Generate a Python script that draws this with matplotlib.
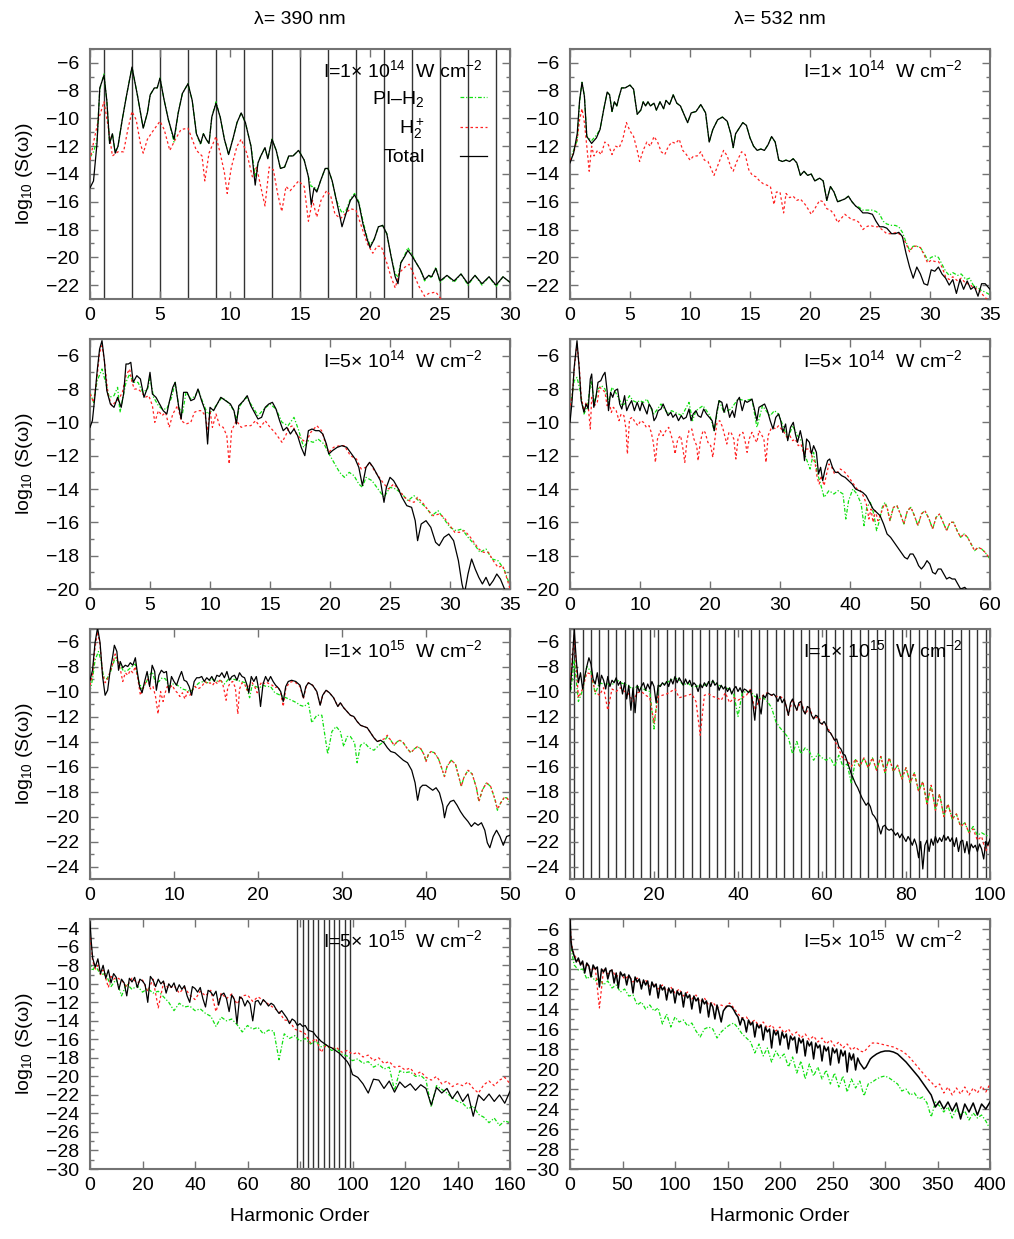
import numpy as np
import matplotlib
matplotlib.use("Agg")
import matplotlib.pyplot as plt
from matplotlib.ticker import MultipleLocator

plt.rcParams['font.family'] = ['Liberation Sans', 'DejaVu Sans']
plt.rcParams['mathtext.fontset'] = 'custom'
plt.rcParams['mathtext.rm'] = 'Liberation Sans'
plt.rcParams['mathtext.it'] = 'Liberation Sans:italic'
plt.rcParams['mathtext.bf'] = 'Liberation Sans:bold'
plt.rcParams['mathtext.sf'] = 'Liberation Sans'
plt.rcParams['font.size'] = 14

# ---------------- data ----------------
series_labels = ["PI\u2013H$_2$", "H$_2^+$", "Total"]
wavelength_titles = ["\u03bb= 390 nm", "\u03bb= 532 nm"]
intensity_labels = ["I=1$\\times$ 10$^{14}$  W cm$^{-2}$", "I=1$\\times$ 10$^{14}$  W cm$^{-2}$",
                    "I=5$\\times$ 10$^{14}$  W cm$^{-2}$", "I=5$\\times$ 10$^{14}$  W cm$^{-2}$",
                    "I=1$\\times$ 10$^{15}$  W cm$^{-2}$", "I=1$\\times$ 10$^{15}$  W cm$^{-2}$",
                    "I=5$\\times$ 10$^{15}$  W cm$^{-2}$", "I=5$\\times$ 10$^{15}$  W cm$^{-2}$"]

# odd-harmonic marker lines
p1_harmonics = [1, 3, 5, 7, 9, 11, 13, 15, 17, 19, 21, 23, 25, 27, 29]
p6_harmonics = [1, 3, 5, 7, 9, 11, 13, 15, 17, 19, 21, 23, 25, 27, 29, 31, 33, 35, 37, 39,
                41, 43, 45, 47, 49, 51, 53, 55, 57, 59, 61, 63, 65, 67, 69, 71, 73, 75, 77, 79,
                81, 83, 85, 87, 89, 91, 93, 95, 97, 99]
p7_harmonics = [79, 81, 83, 85, 87, 89, 91, 93, 95, 97, 99]

# Panel 1: 390 nm, 1e14
p1_total = [(0,-15.0),(0.25,-14.5),(0.5,-11.8),(0.7,-7.8),(1,-6.9),(1.2,-8.7),(1.4,-11.8),(1.6,-11.1),(1.8,-12.5),(2.0,-12.0),
            (2.3,-10.1),(2.6,-8.4),(3.0,-6.3),(3.4,-8.4),(3.8,-10.7),(4.1,-9.6),(4.3,-8.3),(4.6,-7.8),(4.8,-7.8),(5.0,-7.1),
            (5.3,-8.7),(5.6,-10.1),(6.0,-11.5),(6.3,-9.6),(6.6,-8.2),(7.0,-7.5),(7.3,-8.7),(7.6,-11.1),(7.9,-11.8),(8.1,-11.1),
            (8.3,-11.5),(8.5,-11.8),(8.7,-9.9),(9.0,-8.9),(9.3,-9.9),(9.6,-11.5),(9.9,-12.6),(10.2,-11.5),(10.5,-10.3),(10.8,-9.6),
            (11.1,-10.3),(11.5,-12.0),(11.8,-14.8),(12.0,-13.2),(12.2,-12.7),(12.5,-12.1),(12.7,-12.9),(13.0,-11.5),(13.3,-12.3),(13.6,-13.6),
            (13.9,-13.5),(14.2,-12.7),(14.5,-12.7),(14.9,-12.3),(15.3,-13.0),(15.6,-14.2),(15.8,-16.2),(16.0,-15.0),(16.2,-15.3),(16.5,-14.4),
            (16.8,-13.6),(17.0,-13.6),(17.3,-14.5),(17.6,-15.9),(17.9,-17.3),(18.0,-17.8),(18.3,-16.8),(18.6,-15.9),(18.9,-15.5),(19.2,-16.1),
            (19.5,-17.6),(19.8,-18.7),(20.0,-19.3),(20.3,-18.7),(20.6,-17.8),(20.9,-17.7),(21.2,-18.3),(21.5,-19.9),(21.8,-21.4),(22.0,-21.9),
            (22.2,-20.4),(22.5,-19.9),(22.7,-19.5),(23.0,-19.9),(23.3,-20.4),(23.6,-20.9),(23.9,-21.6),(24.2,-21.3),(24.4,-21.4),(24.7,-20.8),
            (25.0,-21.7),(25.5,-21.3),(26.0,-21.7),(26.5,-21.2),(27.0,-21.9),(27.5,-21.3),(28.0,-21.9),(28.5,-21.4),(29.0,-22.0),(29.5,-21.4),(30,-21.8)]
p1_pi = [(0,-12.8),(0.25,-12.4),(0.5,-11.6),(0.7,-7.9),(1,-6.8),(1.2,-8.7),(1.4,-11.8),(1.6,-11.1),(1.8,-12.4),(2.0,-12.0),
         (2.3,-10.1),(2.6,-8.4),(3.0,-6.3),(3.4,-8.4),(3.8,-10.7),(4.1,-9.6),(4.3,-8.3),(4.6,-7.8),(4.8,-7.8),(5.0,-7.1),
         (5.3,-8.7),(5.6,-10.1),(6.0,-11.7),(6.3,-9.6),(6.6,-8.2),(7.0,-7.5),(7.3,-8.7),(7.6,-11.1),(7.9,-11.9),(8.1,-11.1),
         (8.3,-11.5),(8.5,-11.8),(8.7,-9.9),(9.0,-8.8),(9.3,-9.9),(9.6,-11.5),(9.9,-12.6),(10.2,-11.5),(10.5,-10.3),(10.8,-9.6),
         (11.1,-10.3),(11.5,-12.0),(11.8,-14.2),(12.0,-13.2),(12.2,-12.7),(12.5,-12.1),(12.7,-12.9),(13.0,-11.5),(13.3,-12.3),(13.6,-13.6),
         (13.9,-13.5),(14.2,-12.7),(14.5,-12.7),(14.9,-12.3),(15.3,-13.0),(15.6,-14.2),(15.8,-14.9),(16.0,-14.9),(16.2,-15.2),(16.5,-14.4),
         (16.8,-13.6),(17.0,-13.6),(17.3,-14.5),(17.6,-15.9),(17.9,-16.6),(18.0,-16.8),(18.3,-16.6),(18.6,-15.8),(18.9,-15.4),(19.2,-16.0),
         (19.5,-17.4),(19.8,-18.6),(20.0,-19.1),(20.3,-18.7),(20.6,-17.8),(20.9,-17.7),(21.2,-18.3),(21.5,-19.9),(21.8,-21.2),(22.0,-21.4),
         (22.2,-20.4),(22.5,-19.8),(22.7,-19.3),(23.0,-19.8),(23.3,-20.4),(23.6,-20.9),(23.9,-21.7),(24.2,-21.3),(24.4,-21.5),(24.7,-20.7),
         (25.0,-21.8),(25.5,-21.3),(26.0,-21.8),(26.5,-21.2),(27.0,-22.0),(27.5,-21.3),(28.0,-22.0),(28.5,-21.4),(29.0,-22.1),(29.5,-21.4),(30,-21.8)]
p1_ion = [(0,-13.0),(0.3,-11.5),(0.6,-10.1),(1.0,-8.8),(1.3,-10.6),(1.6,-12.7),(2.0,-12.4),(2.4,-12.4),(2.7,-10.8),(3.0,-9.5),
          (3.3,-10.1),(3.6,-11.8),(3.8,-12.5),(4.1,-11.5),(4.5,-10.9),(5.0,-10.2),(5.3,-10.8),(5.7,-12.3),(6.1,-11.5),(6.5,-10.8),
          (7.0,-10.7),(7.3,-11.5),(7.6,-12.3),(8.0,-12.7),(8.2,-14.5),(8.5,-12.5),(9.0,-11.3),(9.3,-12.5),(9.6,-13.9),(9.8,-15.4),
          (10.1,-13.5),(10.5,-12.0),(10.8,-11.5),(11.2,-12.5),(11.6,-14.2),(11.9,-13.5),(12.3,-15.4),(12.5,-16.3),(12.8,-13.5),(13.1,-13.7),
          (13.4,-15.4),(13.7,-16.7),(14.0,-14.9),(14.3,-15.2),(14.9,-14.5),(15.3,-14.9),(15.6,-17.4),(15.9,-15.9),(16.2,-17.1),(16.5,-15.9),
          (16.9,-15.2),(17.2,-15.6),(17.5,-16.9),(17.9,-17.2),(18.2,-16.9),(18.6,-16.5),(19.0,-16.6),(19.4,-17.8),(19.8,-19.0),(20.2,-19.7),
          (20.5,-19.2),(20.8,-19.2),(21.2,-20.4),(21.5,-21.4),(21.8,-22.2),(22.1,-21.1),(22.5,-20.7),(22.8,-20.5),(23.2,-21.4),(23.5,-22.1),
          (23.9,-22.8),(24.2,-22.6),(24.7,-22.5),(25.0,-22.9),(25.3,-23.3),(25.8,-23.6)]

# Panel 2: 532 nm, 1e14
p2_total = [(0,-13.2),(0.3,-12.5),(0.6,-11.1),(0.8,-8.7),(1.0,-7.4),(1.2,-8.4),(1.4,-11.3),(1.8,-11.8),(2.2,-11.4),(2.5,-10.8),
            (2.8,-9.4),(3.1,-8.1),(3.3,-8.3),(3.5,-9.5),(3.7,-8.8),(3.9,-9.1),(4.1,-8.4),(4.3,-7.8),(4.6,-7.8),(4.8,-7.7),
            (5.0,-7.6),(5.3,-7.9),(5.6,-9.7),(5.9,-9.4),(6.1,-8.8),(6.3,-9.1),(6.5,-8.8),(6.7,-9.1),(7.0,-8.9),(7.2,-9.4),
            (7.5,-8.8),(7.8,-9.3),(8.0,-8.7),(8.3,-9.0),(8.6,-8.3),(8.9,-8.9),(9.2,-9.1),(9.5,-9.7),(9.8,-10.3),(10.1,-9.6),
            (10.5,-9.5),(10.9,-9.0),(11.3,-9.6),(11.6,-11.7),(11.9,-10.8),(12.3,-10.1),(12.7,-9.9),(13.1,-10.2),(13.4,-11.1),(13.6,-12.1),
            (13.8,-11.1),(14.1,-10.7),(14.4,-10.3),(14.7,-10.5),(15.0,-11.4),(15.3,-12.0),(15.6,-12.3),(15.9,-12.2),(16.2,-12.3),(16.5,-11.9),
            (16.8,-11.3),(17.1,-11.7),(17.4,-13.0),(17.7,-13.1),(18.0,-13.0),(18.3,-13.1),(18.6,-12.9),(18.9,-13.2),(19.2,-14.1),(19.5,-13.8),
            (19.8,-14.1),(20.1,-14.0),(20.4,-14.5),(20.8,-14.3),(21.1,-14.5),(21.4,-15.9),(21.7,-14.9),(22.0,-15.3),(22.3,-16.0),(22.6,-15.9),
            (22.9,-15.8),(23.2,-15.6),(23.5,-16.0),(23.8,-16.3),(24.1,-16.5),(24.4,-16.8),(24.8,-16.8),(25.2,-16.9),(25.5,-17.4),(25.8,-17.8),
            (26.1,-17.8),(26.4,-17.9),(26.8,-18.3),(27.1,-18.3),(27.4,-18.2),(27.7,-18.5),(28.0,-19.7),(28.3,-20.7),(28.6,-21.5),(28.9,-20.7),
            (29.2,-21.2),(29.5,-21.9),(29.8,-22.0),(30.1,-20.9),(30.4,-21.0),(30.7,-20.7),(31.0,-21.2),(31.3,-21.5),(31.6,-22.0),(31.9,-21.6),
            (32.2,-22.6),(32.5,-21.6),(32.8,-22.3),(33.1,-21.7),(33.4,-22.3),(33.7,-22.1),(34.0,-22.8),(34.3,-21.9),(34.6,-21.9),(35.0,-22.3)]
p2_pi = [(0,-13.0),(0.3,-12.3),(0.6,-11.6),(0.8,-8.8),(1.0,-7.4),(1.2,-8.4),(1.4,-11.3),(1.8,-11.6),(2.2,-11.2),(2.5,-10.8),
         (2.8,-9.4),(3.1,-8.1),(3.3,-8.3),(3.5,-9.5),(3.7,-8.8),(3.9,-9.1),(4.1,-8.4),(4.3,-7.8),(4.6,-7.8),(4.8,-7.7),
         (5.0,-7.6),(5.3,-7.9),(5.6,-9.7),(5.9,-9.4),(6.1,-8.8),(6.3,-9.1),(6.5,-8.8),(6.7,-9.1),(7.0,-8.9),(7.2,-9.4),
         (7.5,-8.8),(7.8,-9.3),(8.0,-8.7),(8.3,-9.0),(8.6,-8.3),(8.9,-8.9),(9.2,-9.1),(9.5,-9.7),(9.8,-10.3),(10.1,-9.6),
         (10.5,-9.5),(10.9,-9.0),(11.3,-9.6),(11.6,-11.7),(11.9,-10.8),(12.3,-10.1),(12.7,-9.9),(13.1,-10.2),(13.4,-11.1),(13.6,-12.1),
         (13.8,-11.1),(14.1,-10.7),(14.4,-10.3),(14.7,-10.5),(15.0,-11.4),(15.3,-12.0),(15.6,-12.3),(15.9,-12.2),(16.2,-12.3),(16.5,-11.9),
         (16.8,-11.3),(17.1,-11.7),(17.4,-13.0),(17.7,-13.1),(18.0,-13.0),(18.3,-13.1),(18.6,-12.9),(18.9,-13.2),(19.2,-14.1),(19.5,-13.8),
         (19.8,-14.1),(20.1,-14.0),(20.4,-14.5),(20.8,-14.3),(21.1,-14.5),(21.4,-15.9),(21.7,-14.9),(22.0,-15.3),(22.3,-16.0),(22.6,-15.9),
         (22.9,-15.8),(23.2,-15.6),(23.5,-16.0),(23.8,-16.3),(24.1,-16.4),(24.4,-16.6),(24.8,-16.6),(25.2,-16.6),(25.5,-16.7),(25.8,-16.9),
         (26.1,-17.4),(26.4,-17.6),(26.8,-17.7),(27.1,-17.7),(27.4,-17.8),(27.7,-18.2),(28.0,-18.9),(28.3,-19.5),(28.6,-19.2),(28.9,-19.2),
         (29.2,-19.3),(29.5,-19.7),(29.8,-20.2),(30.1,-20.0),(30.4,-19.9),(30.7,-20.0),(31.0,-20.5),(31.3,-21.0),(31.6,-21.3),(31.9,-21.1),
         (32.3,-21.3),(32.6,-21.2),(33.0,-21.6),(33.3,-21.5),(33.6,-22.0),(34.0,-22.2),(34.3,-22.4),(34.6,-22.5),(35.0,-22.7)]
p2_ion = [(0,-13.0),(0.3,-12.5),(0.6,-11.5),(0.8,-10.1),(1.0,-9.3),(1.2,-10.3),(1.4,-12.0),(1.6,-13.8),(1.8,-12.0),(2.0,-12.7),
          (2.3,-12.3),(2.6,-12.6),(2.9,-11.7),(3.2,-11.9),(3.5,-12.6),(3.8,-12.0),(4.1,-12.1),(4.4,-11.5),(4.7,-10.3),(5.0,-10.9),
          (5.3,-11.3),(5.6,-12.3),(5.8,-13.1),(6.1,-12.3),(6.4,-11.7),(6.7,-12.0),(7.0,-11.3),(7.3,-11.7),(7.6,-12.4),(7.9,-12.6),
          (8.2,-12.0),(8.5,-11.7),(8.8,-11.8),(9.1,-11.5),(9.4,-12.3),(9.7,-12.6),(10.0,-13.0),(10.3,-12.7),(10.6,-12.7),(10.9,-12.4),
          (11.2,-13.0),(11.5,-13.1),(11.8,-13.7),(12.0,-14.1),(12.4,-13.2),(12.8,-12.3),(13.1,-12.7),(13.4,-13.5),(13.6,-13.8),(13.9,-13.1),
          (14.3,-12.4),(14.6,-12.6),(14.9,-13.7),(15.2,-14.1),(15.5,-14.2),(15.8,-14.5),(16.1,-14.7),(16.4,-14.8),(16.7,-14.9),(17.0,-16.2),
          (17.2,-15.3),(17.5,-15.3),(17.8,-16.8),(18.0,-15.4),(18.3,-15.7),(18.6,-15.6),(18.9,-15.9),(19.2,-15.8),(19.6,-16.2),(19.9,-16.6),
          (20.1,-16.9),(20.4,-16.5),(20.8,-15.9),(21.1,-16.0),(21.4,-16.5),(21.7,-16.6),(22.0,-16.9),(22.3,-17.5),(22.6,-17.2),(22.9,-16.9),
          (23.2,-17.1),(23.5,-17.3),(23.8,-17.3),(24.1,-17.5),(24.4,-18.0),(24.7,-17.8),(25.0,-17.7),(25.4,-17.8),(25.7,-17.8),(26.0,-18.0),
          (26.4,-18.3),(26.8,-18.3),(27.2,-18.2),(27.6,-18.4),(28.0,-19.0),(28.3,-19.6),(28.6,-19.2),(28.9,-19.2),(29.2,-19.3),(29.5,-19.8),
          (29.8,-20.4),(30.1,-20.2),(30.4,-20.3),(30.7,-20.3),(31.0,-20.7),(31.3,-21.4),(31.6,-21.6),(31.9,-21.4),(32.3,-21.7),(32.6,-21.5),
          (33.0,-21.9),(33.3,-21.9),(33.6,-22.2),(34.0,-22.3),(34.3,-22.6),(34.6,-22.9),(35.0,-23.2)]

# Panel 3: 390 nm, 5e14
p3_total = [(0,-10.3),(0.2,-9.9),(0.4,-8.5),(0.6,-6.9),(0.8,-5.6),(1.0,-5.1),(1.2,-6.3),(1.4,-8.1),(1.7,-8.9),(2.0,-9.1),
            (2.3,-8.5),(2.6,-9.1),(2.8,-8.3),(3.0,-6.5),(3.2,-6.5),(3.4,-6.4),(3.6,-7.6),(3.9,-7.2),(4.2,-7.4),(4.5,-8.5),
            (4.8,-7.9),(5.0,-7.0),(5.2,-8.3),(5.5,-8.5),(5.8,-8.9),(6.1,-9.3),(6.4,-9.5),(6.6,-8.8),(6.9,-7.9),(7.1,-7.6),
            (7.4,-9.1),(7.6,-9.8),(7.8,-8.2),(8.1,-8.2),(8.4,-8.7),(8.7,-8.6),(9.0,-8.0),(9.3,-8.7),(9.6,-9.3),(9.8,-11.3),
            (10.0,-9.1),(10.3,-9.3),(10.6,-8.9),(10.9,-8.5),(11.3,-8.7),(11.7,-8.9),(12.0,-9.3),(12.2,-10.1),(12.4,-9.0),(12.8,-8.7),
            (13.1,-8.4),(13.4,-9.0),(13.7,-9.4),(14.0,-9.8),(14.3,-9.7),(14.6,-9.1),(14.9,-8.9),(15.2,-8.8),(15.5,-9.2),(15.8,-9.9),
            (16.1,-10.5),(16.4,-10.3),(16.7,-10.7),(17.0,-10.4),(17.3,-10.8),(17.6,-11.5),(17.9,-12.0),(18.2,-10.5),(18.5,-10.4),(18.8,-10.5),
            (19.1,-10.5),(19.4,-10.7),(19.7,-11.3),(19.9,-11.9),(20.2,-11.7),(20.6,-11.5),(21.0,-11.4),(21.4,-11.5),(21.8,-11.9),(22.1,-12.2),
            (22.4,-12.7),(22.7,-13.8),(23.0,-12.7),(23.3,-12.4),(23.6,-12.7),(23.9,-13.1),(24.2,-13.5),(24.5,-14.8),(24.7,-13.9),(25.0,-13.3),
            (25.3,-13.5),(25.7,-14.0),(26.0,-14.5),(26.4,-15.0),(26.8,-15.1),(27.1,-15.9),(27.3,-17.1),(27.6,-16.1),(28.0,-15.9),(28.4,-16.3),
            (28.8,-17.2),(29.1,-17.4),(29.5,-16.9),(29.9,-16.7),(30.3,-17.1),(30.7,-18.3),(31.0,-19.7),(31.2,-20.3),(31.5,-19.1),(31.8,-18.2),
            (32.1,-18.8),(32.4,-19.3),(32.7,-19.7),(33.0,-19.3),(33.3,-19.8),(33.6,-19.5),(33.9,-19.1),(34.2,-19.4),(34.6,-20.1),(35.0,-20.5)]
p3_pi = [(0,-8.2),(0.3,-8.8),(0.6,-7.5),(1.0,-6.8),(1.3,-7.6),(1.6,-8.5),(2.0,-8.4),(2.3,-7.9),(2.5,-9.4),(2.8,-8.3),
         (3.0,-7.6),(3.3,-7.1),(3.6,-7.6),(4.0,-7.6),(4.4,-8.2),(4.8,-8.0),(5.0,-7.3),(5.3,-8.5),(5.7,-9.0),(6.0,-9.2),
         (6.4,-9.2),(6.8,-8.5),(7.1,-7.6),(7.4,-9.1),(7.7,-9.5),(8.0,-8.2),(8.4,-8.6),(8.8,-8.4),(9.0,-8.0),(9.4,-8.8),
         (9.8,-9.5),(10.2,-9.3),(10.6,-8.9),(11.0,-8.5),(11.5,-8.8),(12.0,-9.3),(12.2,-9.8),(12.5,-9.0),(13.0,-8.5),(13.5,-9.0),
         (14.0,-9.6),(14.5,-9.2),(15.0,-8.9),(15.5,-9.2),(16.0,-10.0),(16.5,-10.2),(17.0,-9.7),(17.4,-10.5),(17.8,-11.5),(18.2,-11.1),
         (18.6,-11.2),(19.0,-11.0),(19.5,-11.3),(20.0,-12.0),(20.4,-12.5),(20.8,-13.0),(21.2,-13.3),(21.6,-13.0),(22.0,-13.2),(22.4,-13.7),
         (22.7,-13.9),(23.0,-13.3),(23.5,-13.5),(24.0,-14.0),(24.5,-14.5),(25.0,-13.9),(25.5,-14.0),(26.0,-14.3),(26.5,-14.7),(27.0,-14.4),
         (27.5,-14.8),(28.0,-15.1),(28.5,-15.6),(29.0,-15.3),(29.5,-15.8),(30.0,-16.3),(30.5,-16.5),(31.0,-16.4),(31.5,-16.9),(32.0,-17.3),
         (32.5,-17.8),(33.0,-17.6),(33.5,-18.2),(34.0,-18.3),(34.5,-18.8),(35.0,-19.8)]
p3_ion = [(0,-8.3),(0.3,-8.8),(0.6,-7.2),(0.8,-5.8),(1.0,-5.4),(1.2,-6.3),(1.5,-8.3),(1.8,-9.0),(2.1,-8.8),(2.4,-8.6),
          (2.7,-8.2),(3.0,-7.2),(3.3,-6.8),(3.5,-7.6),(3.7,-8.0),(4.0,-8.0),(4.3,-8.2),(4.6,-8.5),(4.9,-8.4),(5.2,-9.0),
          (5.4,-10.0),(5.7,-9.3),(6.0,-9.6),(6.3,-9.4),(6.6,-10.3),(6.9,-9.5),(7.3,-9.0),(7.6,-9.9),(8.0,-10.1),(8.4,-10.0),
          (8.7,-9.4),(9.0,-9.3),(9.3,-9.3),(9.6,-9.6),(9.8,-10.5),(10.0,-9.3),(10.2,-10.3),(10.5,-9.5),(10.8,-10.2),(11.1,-10.3),
          (11.4,-10.8),(11.6,-12.5),(11.8,-10.5),(12.2,-9.9),(12.6,-10.3),(13.0,-10.2),(13.4,-10.2),(13.8,-9.9),(14.2,-10.3),(14.6,-9.9),
          (15.0,-10.3),(15.4,-10.6),(15.8,-11.0),(16.0,-11.2),(16.3,-10.8),(16.6,-10.3),(16.9,-10.2),(17.2,-10.7),(17.6,-11.0),(18.0,-11.2),
          (18.4,-10.6),(18.9,-10.2),(19.3,-10.5),(19.6,-11.2),(19.9,-11.8),(20.3,-11.5),(20.8,-11.4),(21.2,-11.4),(21.7,-12.0),(22.2,-12.2),
          (22.6,-12.8),(23.0,-12.7),(23.3,-12.4),(23.7,-12.9),(24.1,-13.3),(24.5,-13.7),(24.9,-14.0),(25.3,-13.7),(25.7,-14.0),(26.2,-14.5),
          (26.6,-14.7),(27.0,-14.8),(27.3,-14.5),(27.8,-14.9),(28.2,-15.3),(28.6,-15.6),(29.1,-15.5),(29.5,-15.7),(30.0,-16.2),(30.4,-16.6),
          (30.8,-16.6),(31.2,-16.5),(31.6,-16.8),(32.0,-17.2),(32.4,-17.6),(32.8,-17.8),(33.2,-17.8),(33.6,-18.3),(34.0,-18.7),(34.4,-18.6),
          (34.8,-19.5),(35.0,-20.0)]

# Panel 4: 532 nm, 5e14
p4_total = [(0,-10.0),(0.3,-8.7),(0.6,-6.7),(1.0,-5.1),(1.3,-6.7),(1.6,-8.7),(2.0,-9.4),(2.3,-8.9),(2.6,-9.2),(2.9,-7.4),
            (3.1,-7.1),(3.4,-9.1),(3.7,-8.5),(4.0,-7.6),(4.4,-7.5),(4.7,-7.2),(5.0,-7.0),(5.3,-8.1),(5.5,-9.3),(5.8,-8.2),
            (6.1,-8.5),(6.4,-8.1),(6.8,-8.0),(7.1,-8.9),(7.4,-9.2),(7.8,-8.4),(8.1,-9.3),(8.4,-9.0),(8.8,-8.7),(9.2,-9.3),
            (9.6,-8.8),(10.0,-9.3),(10.3,-8.8),(10.6,-9.1),(11.0,-9.5),(11.3,-8.9),(11.7,-9.2),(12.0,-9.9),(12.3,-9.7),(12.6,-9.3),
            (13.0,-9.2),(13.3,-8.9),(13.7,-9.3),(14.0,-9.6),(14.4,-9.4),(14.7,-9.7),(15.1,-9.5),(15.5,-9.9),(15.9,-9.6),(16.2,-9.8),
            (16.6,-9.7),(17.0,-9.2),(17.3,-9.9),(17.6,-9.5),(18.0,-9.3),(18.3,-9.6),(18.7,-9.7),(19.1,-9.2),(19.5,-9.5),(19.9,-9.7),
            (20.3,-9.9),(20.6,-10.5),(21.0,-9.3),(21.3,-8.7),(21.7,-8.8),(22.0,-9.4),(22.4,-8.9),(22.8,-9.7),(23.2,-9.3),(23.5,-9.7),
            (23.9,-8.7),(24.2,-8.5),(24.6,-9.3),(25.0,-8.7),(25.3,-8.8),(25.7,-8.7),(26.0,-8.6),(26.4,-9.3),(26.7,-9.9),(27.0,-9.1),
            (27.4,-9.0),(27.8,-8.9),(28.2,-9.3),(28.6,-9.9),(29.0,-10.4),(29.4,-9.7),(29.8,-9.5),(30.1,-9.9),(30.4,-10.6),(30.8,-10.1),
            (31.1,-11.1),(31.5,-10.3),(31.9,-10.0),(32.2,-10.7),(32.5,-11.2),(32.9,-10.5),(33.2,-11.1),(33.5,-12.3),(33.8,-11.0),(34.2,-11.2),
            (34.5,-11.9),(34.8,-11.4),(35.2,-11.8),(35.5,-13.1),(35.8,-12.7),(36.1,-13.5),(36.4,-12.9),(36.8,-12.3),(37.1,-12.2),(37.5,-12.7),
            (37.9,-13.0),(38.3,-13.0),(38.8,-13.2),(39.3,-13.3),(39.8,-13.5),(40.3,-13.7),(40.8,-14.0),(41.3,-14.1),(41.8,-14.2),(42.3,-14.4),
            (42.8,-14.8),(43.3,-15.2),(43.8,-15.4),(44.3,-15.6),(44.8,-16.1),(45.3,-16.7),(45.8,-16.9),(46.3,-17.2),(46.8,-17.5),(47.3,-17.8),
            (47.8,-18.1),(48.2,-18.2),(48.6,-17.9),(49.0,-17.9),(49.4,-18.2),(49.8,-18.6),(50.2,-18.8),(50.6,-18.6),(51.0,-18.3),(51.4,-18.5),
            (51.8,-19.0),(52.2,-19.1),(52.6,-18.8),(53.0,-18.8),(53.4,-19.1),(53.8,-19.4),(54.2,-19.3),(54.6,-19.4),(55.0,-19.4),(55.4,-19.7),
            (55.8,-20.0),(56.4,-19.9),(57.0,-20.2)]
p4_pi = [(0,-9.2),(0.6,-7.5),(1.0,-7.3),(1.4,-8.0),(2.0,-9.5),(2.5,-9.0),(3.0,-7.5),(3.5,-8.8),(4.0,-8.0),(4.5,-7.8),
         (5.0,-8.0),(5.5,-8.8),(6.0,-7.9),(6.5,-8.2),(7.0,-8.6),(7.5,-9.0),(8.0,-8.8),(8.5,-8.4),(9.0,-8.7),(9.5,-8.8),
         (10.0,-8.7),(10.5,-8.8),(11.0,-8.6),(11.5,-9.1),(12.0,-9.5),(13.0,-8.9),(14.0,-9.5),(14.5,-9.3),(15.0,-9.4),(16.0,-9.6),
         (17.0,-8.8),(17.5,-9.9),(18.0,-9.3),(19.0,-9.0),(20.0,-9.6),(20.6,-10.5),(21.3,-8.7),(22.0,-9.4),(23.0,-9.2),(24.0,-8.6),
         (25.0,-8.7),(26.0,-8.6),(26.7,-10.3),(27.5,-9.0),(28.0,-9.3),(28.6,-9.6),(29.2,-9.3),(29.8,-9.5),(30.5,-10.3),(31.1,-11.0),
         (31.8,-10.2),(32.5,-10.8),(33.2,-11.2),(33.5,-11.9),(34.3,-12.8),(34.8,-11.8),(35.3,-13.0),(35.8,-13.7),(36.3,-14.5),(37.0,-14.1),
         (37.7,-14.3),(38.3,-14.1),(39.0,-14.3),(39.4,-15.8),(39.8,-14.7),(40.4,-14.0),(41.0,-14.3),(41.6,-14.9),(42.0,-16.2),(42.4,-15.1),
         (42.9,-14.8),(43.4,-15.5),(43.8,-16.5),(44.2,-15.9),(44.6,-15.1),(45.0,-14.8),(45.3,-15.1),(45.7,-15.9),(46.2,-15.1),(46.7,-15.0),
         (47.2,-15.5),(47.7,-16.1),(48.2,-15.3),(48.7,-15.1),(49.2,-15.6),(49.7,-16.2),(50.2,-15.5),(50.7,-15.3),(51.3,-15.8),(51.8,-16.4),
         (52.3,-15.7),(52.8,-15.5),(53.3,-16.0),(53.8,-16.5),(54.3,-16.0),(54.8,-16.0),(55.3,-16.5),(55.8,-16.9),(56.3,-16.7),(56.8,-16.9),
         (57.3,-17.3),(57.8,-17.7),(58.3,-17.5),(58.8,-17.6),(59.3,-17.8),(60.0,-18.2)]
p4_ion = [(0,-9.0),(0.3,-8.5),(0.6,-6.8),(1.0,-5.3),(1.3,-6.5),(1.6,-8.5),(2.0,-9.3),(2.3,-8.8),(2.6,-9.0),(2.9,-10.4),
          (3.1,-8.5),(3.5,-9.0),(3.9,-8.8),(4.2,-7.9),(4.6,-8.0),(5.0,-8.2),(5.3,-9.0),(5.6,-8.8),(5.9,-9.4),(6.2,-9.1),
          (6.6,-9.3),(7.0,-9.9),(7.3,-9.5),(7.7,-9.6),(8.0,-10.4),(8.2,-11.9),(8.5,-9.8),(8.9,-9.7),(9.3,-10.0),(9.7,-10.2),
          (10.1,-9.9),(10.5,-10.0),(10.9,-10.3),(11.3,-10.2),(11.6,-10.6),(11.9,-11.2),(12.2,-12.4),(12.5,-11.0),(12.9,-10.5),(13.3,-10.8),
          (13.7,-10.5),(14.1,-10.3),(14.4,-10.7),(14.8,-11.3),(15.0,-11.9),(15.4,-11.0),(15.8,-10.8),(16.1,-11.5),(16.4,-12.4),(16.7,-11.1),
          (17.0,-10.5),(17.4,-10.4),(17.7,-11.0),(18.1,-11.4),(18.3,-12.3),(18.6,-11.2),(19.0,-10.5),(19.3,-10.6),(19.7,-11.2),(20.1,-11.4),
          (20.4,-12.1),(20.7,-11.0),(21.0,-10.0),(21.4,-9.9),(21.8,-10.3),(22.1,-10.8),(22.4,-11.3),(22.7,-10.6),(23.0,-10.6),(23.4,-11.0),
          (23.7,-12.2),(24.0,-11.0),(24.3,-10.7),(24.7,-10.6),(25.0,-11.1),(25.3,-11.8),(25.6,-11.0),(26.0,-10.6),(26.4,-11.0),(26.7,-11.2),
          (27.0,-10.5),(27.3,-10.7),(27.7,-11.0),(28.0,-12.4),(28.3,-10.8),(28.7,-10.4),(29.0,-10.3),(29.4,-10.4),(29.8,-10.2),(30.2,-10.4),
          (30.6,-10.6),(31.0,-10.9),(31.4,-10.8),(31.8,-11.1),(32.2,-11.0),(32.6,-11.4),(33.0,-11.3),(33.4,-11.9),(33.8,-11.6),(34.2,-11.6),
          (34.6,-12.1),(35.0,-12.4),(35.3,-13.3),(35.6,-13.7),(35.9,-13.2),(36.3,-13.8),(36.6,-13.2),(37.0,-12.5),(37.4,-12.7),(37.8,-13.1),
          (38.2,-13.0),(38.6,-12.8),(39.0,-12.9),(39.5,-13.1),(40.0,-13.4),(40.5,-13.7),(41.0,-14.0),(41.5,-14.1),(42.0,-14.5),(42.4,-15.0),
          (42.7,-15.8),(43.0,-15.2),(43.3,-16.0),(43.6,-15.3),(44.0,-15.9),(44.4,-15.5),(44.9,-14.9),(45.3,-15.1),(45.7,-15.9),(46.2,-15.1),
          (46.7,-15.0),(47.2,-15.5),(47.7,-16.1),(48.2,-15.3),(48.7,-15.1),(49.2,-15.6),(49.7,-16.2),(50.2,-15.5),(50.7,-15.3),(51.3,-15.8),
          (51.8,-16.4),(52.3,-15.7),(52.8,-15.5),(53.3,-16.0),(53.8,-16.5),(54.3,-16.0),(54.8,-16.0),(55.3,-16.5),(55.8,-16.9),(56.3,-16.7),
          (56.8,-16.9),(57.3,-17.3),(57.8,-17.7),(58.3,-17.5),(58.8,-17.6),(59.3,-17.8),(60.0,-18.2)]

# Panel 5: 390 nm, 1e15
p5_total = [(0,-9.1),(0.3,-8.3),(0.6,-6.1),(0.9,-4.9),(1.2,-6.1),(1.5,-8.8),(1.8,-10.3),(2.1,-9.9),(2.4,-8.3),(2.7,-7.2),
            (2.9,-6.3),(3.2,-6.8),(3.4,-8.3),(3.6,-7.6),(3.9,-8.1),(4.2,-7.9),(4.5,-8.0),(4.8,-7.7),(5.1,-7.9),(5.4,-7.3),
            (5.6,-8.3),(5.9,-9.6),(6.2,-10.1),(6.5,-9.2),(6.8,-8.4),(7.1,-9.6),(7.4,-7.9),(7.7,-8.4),(7.9,-9.9),(8.2,-8.7),
            (8.5,-8.3),(8.8,-8.5),(9.1,-8.4),(9.4,-10.1),(9.7,-8.8),(10.0,-9.2),(10.3,-9.5),(10.6,-8.9),(10.9,-8.4),(11.2,-9.1),
            (11.5,-9.2),(11.8,-9.6),(12.1,-10.3),(12.4,-9.2),(12.7,-8.9),(13.0,-8.9),(13.3,-8.8),(13.6,-9.2),(13.9,-8.9),(14.2,-9.1),
            (14.5,-8.8),(14.8,-9.2),(15.1,-8.7),(15.4,-8.8),(15.7,-8.5),(16.0,-8.9),(16.3,-8.4),(16.6,-9.1),(16.9,-8.8),(17.2,-8.7),
            (17.5,-9.1),(17.8,-8.5),(18.1,-8.8),(18.4,-8.9),(18.7,-9.5),(18.9,-10.1),(19.2,-8.8),(19.5,-9.2),(19.8,-8.8),(20.1,-9.9),
            (20.3,-11.2),(20.6,-9.4),(20.9,-8.8),(21.2,-9.2),(21.5,-8.8),(21.8,-9.2),(22.1,-9.5),(22.4,-9.7),(22.7,-10.0),(23.0,-10.8),
            (23.3,-9.6),(23.6,-9.2),(24.0,-9.1),(24.5,-9.2),(25.0,-9.5),(25.4,-10.5),(25.7,-9.6),(26.0,-9.3),(26.5,-9.5),(27.0,-10.0),
            (27.4,-11.1),(27.7,-10.3),(28.1,-9.9),(28.5,-10.1),(29.0,-10.5),(29.5,-11.2),(29.8,-10.9),(30.2,-11.3),(30.6,-11.6),(31.0,-11.9),
            (31.4,-12.0),(31.8,-12.4),(32.2,-12.7),(32.6,-12.8),(33.0,-12.9),(33.4,-13.3),(33.8,-13.7),(34.2,-14.0),(34.6,-13.9),(35.0,-14.1),
            (35.4,-14.5),(35.8,-14.8),(36.3,-14.9),(36.8,-15.2),(37.3,-15.5),(37.8,-15.7),(38.3,-16.3),(38.7,-17.3),(39.0,-18.7),(39.3,-17.7),
            (39.6,-17.5),(40.0,-17.5),(40.4,-17.7),(40.8,-17.9),(41.2,-17.7),(41.6,-18.1),(42.0,-19.1),(42.2,-20.1),(42.5,-19.2),(42.9,-18.8),
            (43.3,-18.7),(43.7,-19.1),(44.1,-19.6),(44.5,-20.0),(45.0,-20.4),(45.4,-20.8),(45.8,-20.5),(46.2,-20.7),(46.6,-20.5),(47.0,-21.1),
            (47.3,-22.1),(47.6,-22.5),(48.0,-21.6),(48.4,-21.1),(48.8,-21.6),(49.2,-22.3),(49.6,-21.6),(50.0,-21.5)]
p5_pi = [(0,-10.0),(0.3,-9.0),(0.6,-7.5),(1.0,-6.8),(1.3,-7.5),(1.6,-8.8),(2.0,-9.0),(2.4,-8.5),(2.7,-7.9),(3.0,-7.3),
         (3.3,-7.6),(3.7,-8.0),(4.0,-8.4),(4.5,-8.3),(5.0,-8.0),(5.4,-7.8),(5.8,-9.2),(6.2,-9.8),(6.6,-9.4),(7.0,-8.8),
         (7.4,-8.4),(7.8,-9.3),(8.2,-9.2),(8.6,-8.9),(9.0,-9.0),(9.4,-9.6),(9.8,-9.4),(10.2,-9.4),(10.6,-9.6),(11.0,-9.8),
         (11.5,-9.9),(12.0,-10.0),(12.5,-9.6),(13.0,-9.3),(13.5,-9.2),(14.0,-9.3),(14.5,-9.0),(15.0,-9.2),(15.5,-9.1),(16.0,-9.4),
         (16.5,-9.0),(17.0,-9.0),(17.5,-9.1),(18.0,-9.2),(18.5,-9.3),(19.0,-10.5),(19.3,-9.5),(19.7,-9.6),(20.2,-9.7),(20.6,-9.5),
         (21.0,-9.6),(21.5,-9.6),(22.0,-10.1),(23.0,-10.4),(24.0,-10.7),(24.6,-10.9),(25.0,-11.1),(25.5,-11.2),(26.0,-10.9),(26.4,-12.5),
         (27.0,-11.9),(27.6,-11.9),(28.3,-15.0),(28.8,-13.2),(29.3,-12.8),(29.8,-13.2),(30.2,-14.4),(30.6,-13.6),(31.0,-13.6),(31.5,-14.1),
         (31.8,-15.7),(32.2,-14.3),(32.7,-14.1),(33.2,-14.5),(33.8,-14.7),(34.4,-14.3),(35.0,-14.0),(35.4,-13.6),(35.8,-13.9),(36.2,-14.3),
         (36.6,-14.0),(36.9,-13.9),(37.3,-14.1),(37.8,-14.6),(38.2,-14.9),(38.6,-14.6),(39.0,-14.4),(39.4,-14.6),(39.8,-15.1),(40.0,-15.6),
         (40.3,-15.0),(40.6,-14.8),(41.0,-14.9),(41.5,-15.4),(41.9,-16.2),(42.2,-16.8),(42.5,-16.0),(43.0,-15.5),(43.5,-15.8),(43.9,-16.8),
         (44.2,-17.6),(44.5,-16.9),(45.0,-16.3),(45.5,-16.6),(46.0,-17.7),(46.3,-18.8),(46.7,-17.9),(47.2,-17.3),(47.7,-17.6),(48.2,-18.6),
         (48.5,-19.5),(48.9,-18.9),(49.3,-18.5),(49.6,-18.5),(50.0,-18.9)]
p5_ion = [(0,-9.5),(0.3,-8.7),(0.6,-6.5),(0.9,-5.2),(1.2,-6.3),(1.5,-8.6),(1.8,-9.3),(2.1,-9.0),(2.4,-8.4),(2.7,-7.8),
          (3.0,-7.0),(3.3,-7.5),(3.6,-8.2),(3.9,-9.2),(4.2,-8.5),(4.5,-8.7),(4.8,-8.3),(5.1,-8.5),(5.4,-8.0),(5.7,-9.0),
          (6.0,-10.3),(6.3,-9.8),(6.6,-9.3),(6.9,-9.0),(7.2,-9.8),(7.5,-9.6),(7.8,-10.4),(8.1,-11.8),(8.4,-10.0),(8.7,-10.8),
          (8.9,-10.2),(9.2,-9.6),(9.5,-9.7),(9.8,-9.5),(10.1,-9.9),(10.4,-10.1),(10.7,-10.4),(11.0,-10.1),(11.3,-10.6),(11.6,-10.0),
          (11.9,-10.3),(12.2,-9.9),(12.5,-9.6),(12.8,-9.8),(13.1,-9.7),(13.4,-9.5),(13.7,-9.2),(14.0,-9.4),(14.3,-9.3),(14.6,-9.5),
          (14.9,-9.2),(15.2,-9.4),(15.5,-9.0),(15.8,-9.4),(16.0,-10.0),(16.2,-10.7),(16.4,-9.7),(16.7,-9.3),(17.0,-9.2),(17.3,-9.7),
          (17.6,-11.8),(17.8,-9.8),(18.1,-9.3),(18.4,-9.4),(18.7,-9.9),(19.0,-9.5),(19.3,-9.3),(19.6,-9.6),(19.9,-10.1),(20.2,-9.5),
          (20.5,-9.2),(20.8,-9.4),(21.1,-9.3),(21.4,-9.4),(21.7,-9.5),(22.0,-9.7),(22.4,-9.6),(22.7,-10.1),(23.0,-11.2),(23.3,-9.8),
          (23.7,-9.3),(24.1,-9.2),(24.5,-9.3),(25.0,-9.6),(25.4,-10.6),(25.7,-9.7),(26.0,-9.3),(26.5,-9.5),(27.0,-10.0),(27.4,-11.1),
          (27.7,-10.3),(28.1,-9.9),(28.5,-10.1),(29.0,-10.5),(29.5,-11.2),(29.8,-10.9),(30.2,-11.3),(30.6,-11.6),(31.0,-11.9),(31.4,-12.0),
          (31.8,-12.4),(32.2,-12.7),(32.6,-12.8),(33.0,-12.9),(33.4,-13.3),(33.8,-13.7),(34.2,-14.0),(34.6,-13.9),(35.0,-13.8),(35.4,-13.5),
          (35.8,-13.9),(36.2,-14.3),(36.6,-14.0),(36.9,-13.9),(37.3,-14.1),(37.8,-14.6),(38.2,-14.9),(38.6,-14.6),(39.0,-14.4),(39.4,-14.6),
          (39.8,-15.1),(40.0,-15.6),(40.3,-15.0),(40.6,-14.8),(41.0,-14.9),(41.5,-15.4),(41.9,-16.2),(42.2,-16.8),(42.5,-16.0),(43.0,-15.5),
          (43.5,-15.8),(43.9,-16.8),(44.2,-17.6),(44.5,-16.9),(45.0,-16.3),(45.5,-16.6),(46.0,-17.7),(46.3,-18.8),(46.7,-17.9),(47.2,-17.3),
          (47.7,-17.6),(48.2,-18.6),(48.5,-19.4),(48.9,-18.9),(49.3,-18.5),(49.6,-18.5),(50.0,-18.8)]

# Panel 6: 532 nm, 1e15 (total sampled every 0.5 harmonic, the others every 1)
p6_total_y = [-10.0,-8.0,-5.0,-7.5,-9.3,-8.5,-9.8,-8.8,-8.0,-7.3,-7.8,-9.0,-9.4,-8.5,-9.6,-8.7,-9.1,-9.8,-8.8,-9.6,
              -9.1,-9.3,-8.9,-9.5,-9.2,-10.2,-9.3,-10.6,-9.5,-11.5,-9.7,-11.7,-9.5,-10.0,-9.6,-9.3,-9.9,-9.4,-9.8,-9.2,
              -9.6,-10.9,-9.5,-9.6,-9.3,-9.5,-9.2,-9.6,-9.0,-9.4,-8.8,-9.3,-8.9,-9.2,-9.5,-9.0,-9.4,-9.1,-9.6,-9.3,
              -9.5,-10.0,-9.4,-9.7,-9.3,-9.6,-9.2,-9.6,-9.1,-9.5,-9.3,-9.9,-9.5,-9.8,-9.6,-10.0,-9.7,-10.2,-9.8,-9.6,
              -10.0,-9.7,-10.1,-9.8,-9.9,-10.1,-9.9,-10.9,-12.3,-10.2,-11.0,-11.8,-10.3,-10.5,-10.1,-10.2,-10.3,-10.2,-10.4,-10.8,
              -10.4,-10.9,-10.6,-11.2,-11.9,-10.9,-10.6,-11.1,-11.5,-10.9,-10.8,-11.5,-11.8,-11.2,-11.3,-11.9,-12.2,-11.9,-12.0,-12.5,
              -12.6,-12.4,-12.7,-13.2,-13.3,-13.6,-13.9,-13.8,-14.4,-14.6,-15.0,-15.1,-15.6,-16.1,-16.6,-17.0,-17.4,-17.7,-18.1,-18.5,
              -18.8,-19.1,-18.9,-19.2,-19.8,-20.0,-20.3,-20.8,-21.4,-20.8,-20.7,-21.0,-21.1,-21.0,-21.2,-21.5,-21.3,-21.7,-21.4,-21.7,
              -22.0,-21.6,-21.9,-22.3,-21.8,-22.3,-23.3,-22.0,-24.2,-22.3,-21.9,-22.8,-21.8,-22.3,-21.6,-22.1,-21.7,-22.0,-21.5,-21.9,
              -21.6,-22.0,-21.7,-22.4,-21.7,-22.8,-22.0,-21.9,-22.9,-22.0,-23.0,-22.2,-22.5,-22.3,-22.8,-22.2,-22.6,-23.4,-22.0,-22.3,
              -21.8]
p6_ion_y = [-9.5,-5.5,-10.5,-9.8,-8.5,-8.6,-10.0,-10.3,-9.7,-11.5,
            -9.8,-10.0,-9.7,-10.0,-10.2,-10.8,-10.1,-10.0,-10.3,-10.5,
            -12.5,-10.4,-10.3,-10.2,-10.0,-9.8,-10.5,-10.4,-10.3,-10.2,
            -10.8,-13.5,-10.3,-10.2,-10.4,-10.5,-10.7,-10.1,-10.9,-10.5,
            -10.7,-10.5,-10.3,-9.8,-11.5,-10.7,-10.3,-10.1,-10.3,-10.4,
            -10.4,-10.6,-11.9,-10.6,-11.5,-10.8,-11.8,-11.3,-12.2,-12.0,
            -12.6,-12.7,-13.3,-13.9,-14.6,-15.4,-15.5,-16.0,-15.4,-16.0,
            -15.3,-16.1,-15.3,-16.3,-15.2,-16.5,-15.3,-16.4,-15.9,-17.0,
            -16.1,-17.3,-16.5,-18.0,-17.2,-19.0,-17.5,-19.5,-18.2,-20.0,
            -19.0,-20.2,-19.8,-20.8,-20.5,-21.3,-21.0,-21.9,-21.6,-22.8,-21.9]
p6_pi_y = [-10.6,-7.5,-10.8,-9.9,-8.0,-8.4,-10.2,-9.3,-9.4,-9.4,
           -9.5,-9.0,-9.3,-9.4,-9.6,-9.8,-9.6,-9.7,-9.9,-10.0,
           -13.0,-9.6,-9.4,-9.3,-9.1,-8.9,-9.1,-9.5,-9.3,-9.6,
           -9.6,-9.5,-9.5,-9.3,-9.2,-9.4,-9.6,-9.7,-9.8,-10.2,
           -12.0,-10.1,-10.0,-10.0,-10.4,-10.5,-10.5,-10.8,-11.3,-12.4,
           -12.9,-13.3,-13.7,-15.0,-14.0,-15.0,-14.5,-14.8,-15.5,-15.0,
           -15.3,-15.5,-15.3,-16.0,-15.1,-16.0,-15.8,-17.4,-15.4,-16.0,
           -15.3,-16.1,-15.3,-16.3,-15.2,-16.5,-15.3,-16.4,-15.9,-17.0,
           -16.1,-17.3,-16.5,-18.0,-17.2,-19.0,-17.5,-19.5,-18.2,-20.0,
           -19.0,-20.2,-19.8,-20.8,-20.5,-21.3,-20.8,-21.5,-21.3,-21.5,-21.6]

# Panel 7: 390 nm, 5e15
p7_total_head = [(0,-3.3),(0.5,-5.5),(1,-7.2),(2,-8.2),(3,-7.3),(4,-8.9),(5,-8.0),(6,-9.4),(7,-8.5),(8,-9.9),(9,-8.9)]
p7_total_mid = [-9.3,-10.6,-9.5,-9.9,-11.3,-9.4,-9.8,-9.3,-10.4,-9.5,          # every harmonic, 10 .. 100
                -9.7,-10.1,-12.0,-9.2,-9.6,-10.3,-9.5,-10.0,-9.7,-11.0,
                -10.0,-10.4,-9.9,-10.8,-10.1,-10.6,-10.2,-11.3,-12.0,-10.3,
                -10.5,-10.9,-10.4,-11.6,-12.5,-10.7,-10.9,-11.3,-10.8,-12.3,
                -11.2,-11.0,-11.6,-13.0,-11.2,-11.7,-14.3,-11.4,-11.6,-12.4,
                -11.8,-12.2,-14.0,-11.9,-11.8,-12.3,-11.7,-12.0,-12.4,-12.1,
                -12.3,-12.8,-13.2,-12.9,-13.3,-13.7,-14.3,-13.8,-14.0,-14.5,
                -14.3,-14.6,-14.5,-15.0,-15.1,-15.2,-15.6,-15.9,-16.2,-16.4,
                -16.6,-16.8,-16.9,-17.1,-17.3,-17.5,-17.8,-18.1,-18.4,-18.9,
                -19.8]
p7_total_end = [-20.1,-20.8,-21.8,-20.3,-20.4,-21.3,-20.5,-21.7,-20.6,-21.2,  # every 2 harmonics, 102 .. 160
                -20.8,-21.5,-20.9,-21.3,-23.1,-21.2,-21.8,-21.3,-22.4,-21.6,
                -22.7,-21.9,-24.3,-22.0,-22.6,-21.9,-22.7,-22.0,-22.9,-21.6]
p7_ion_head = [(0,-5.0),(0.5,-6.0),(1,-7.5),(2,-8.4),(3,-8.0),(4,-9.0),(5,-8.5),(6,-9.4),(7,-10.4),(8,-9.2),(9,-9.5)]
p7_ion_tail = [-9.3,-9.6,-10.3,-9.4,-9.9,-9.6,-10.8,-9.5,-12.6,-9.9,         # every 2 harmonics, 10 .. 160
               -10.5,-10.2,-11.0,-10.4,-11.2,-11.7,-10.8,-11.3,-10.7,-13.0,
               -11.0,-11.6,-11.1,-12.2,-11.3,-11.2,-11.9,-11.4,-11.8,-12.2,
               -12.6,-13.0,-13.9,-14.0,-14.9,-15.1,-15.4,-16.4,-15.9,-17.4,
               -16.6,-17.0,-16.9,-17.4,-17.2,-17.6,-17.4,-17.9,-17.7,-18.3,
               -18.0,-18.6,-18.4,-19.0,-18.9,-19.3,-19.1,-19.8,-19.5,-20.1,
               -20.4,-20.0,-20.8,-20.5,-21.1,-20.8,-21.0,-20.6,-21.3,-21.8,
               -20.9,-20.5,-21.0,-20.4,-20.1,-20.8]
p7_pi_head = [(0,-7.8),(1,-8.6),(2,-8.0),(4,-9.0),(6,-8.9),(8,-10.3)]
p7_pi_tail = [-9.5,-11.3,-10.0,-10.6,-10.2,-10.9,-10.5,-11.0,-10.8,-11.4,     # every 2 harmonics, 10 .. 160
              -12.0,-12.9,-12.1,-12.5,-12.4,-12.9,-12.7,-13.2,-13.5,-14.6,
              -13.6,-14.0,-13.8,-14.4,-15.2,-14.5,-14.9,-14.7,-15.4,-15.0,
              -15.1,-18.2,-15.4,-15.9,-15.6,-16.2,-15.9,-16.5,-16.2,-16.8,
              -16.6,-17.2,-17.0,-17.6,-17.8,-18.3,-18.1,-18.6,-18.4,-19.0,
              -18.7,-19.2,-19.0,-21.5,-19.4,-19.6,-19.5,-20.0,-19.9,-20.4,
              -23.3,-21.0,-21.4,-21.8,-22.3,-22.7,-22.9,-23.5,-23.2,-24.1,
              -24.4,-25.0,-24.5,-25.3,-24.8,-25.0]

# Panel 8: 532 nm, 5e15
p8_total_head = [(0,-5.0),(1,-7.3),(2,-8.0)]
p8_total_mid = [-8.7,-9.3,-8.9,-9.6,-9.2,-10.4,-9.4,-9.7,-10.8,-9.6,          # every 2 harmonics, 4 .. 288
                -10.0,-9.8,-11.8,-10.0,-10.3,-9.9,-11.0,-10.2,-10.1,-11.4,
                -10.4,-11.9,-10.3,-10.7,-10.5,-11.6,-10.6,-11.0,-12.4,-10.8,
                -11.3,-11.0,-12.0,-11.1,-11.6,-11.2,-12.6,-11.3,-11.8,-11.5,
                -12.9,-11.6,-12.1,-11.8,-13.1,-11.9,-12.4,-12.0,-13.4,-12.2,
                -12.6,-12.3,-13.8,-12.4,-12.9,-12.6,-14.0,-12.7,-13.2,-12.9,
                -14.4,-13.0,-13.5,-13.2,-14.8,-13.4,-13.8,-15.0,-13.6,-14.4,
                -15.3,-14.2,-13.9,-13.7,-13.7,-13.8,-14.1,-14.5,-14.8,-15.6,
                -14.9,-15.2,-16.3,-15.1,-15.6,-15.3,-16.8,-15.5,-15.9,-15.6,
                -17.1,-15.8,-16.3,-16.0,-17.9,-16.1,-16.6,-16.2,-17.6,-16.3,
                -16.9,-16.5,-18.0,-16.7,-17.1,-16.8,-18.4,-16.9,-17.4,-17.0,
                -18.7,-17.2,-17.7,-17.3,-19.0,-17.4,-17.9,-17.6,-19.2,-17.7,
                -18.2,-17.8,-19.6,-17.9,-18.4,-18.0,-19.4,-18.1,-18.7,-18.2,
                -20.3,-18.4,-19.1,-18.5,-20.1,-18.9,-19.4,-19.7,-20.0,-19.8,
                -19.4,-19.0,-18.8]
p8_total_end = [-18.5,-18.3,-18.2,-18.2,-18.3,-18.5,-18.9,-19.3,-19.8,-20.3,  # every 4 harmonics, 292 .. 400
                -20.8,-21.4,-22.0,-22.6,-23.8,-23.2,-24.0,-23.3,-24.2,-23.4,
                -25.0,-23.5,-24.3,-23.4,-24.6,-23.5,-24.0,-23.3]
p8_ion_head = [(0,-5.2),(1,-7.0),(2,-7.8)]
p8_ion_tail = [-8.6,-9.2,-9.5,-9.6,-10.2,-9.8,-13.9,-10.0,-10.5,-10.1,       # every 4 harmonics, 4 .. 400
               -10.8,-10.4,-11.0,-10.7,-11.3,-10.9,-11.5,-11.1,-11.8,-11.4,
               -12.0,-11.6,-12.2,-11.8,-12.4,-12.0,-12.7,-12.3,-13.0,-12.6,
               -13.3,-12.9,-13.6,-13.3,-13.9,-13.6,-13.8,-13.4,-13.9,-14.5,
               -14.9,-14.8,-15.4,-15.1,-15.7,-15.3,-15.9,-15.6,-16.2,-15.8,
               -16.4,-16.0,-16.6,-16.3,-16.9,-16.5,-17.1,-16.7,-17.3,-16.9,
               -17.5,-17.1,-17.7,-17.3,-17.9,-17.5,-18.1,-17.8,-18.2,-18.3,
               -17.8,-17.4,-17.4,-17.5,-17.6,-17.7,-17.8,-18.0,-18.2,-18.5,
               -18.9,-19.4,-19.9,-20.4,-20.9,-21.3,-21.8,-21.5,-22.4,-21.8,
               -22.6,-21.9,-22.5,-21.8,-22.6,-21.9,-22.4,-21.7,-22.3,-21.5]
p8_pi_head = [(0,-7.0),(1,-8.0),(2,-8.5)]
p8_pi_tail = [-9.6,-10.1,-10.0,-11.0,-10.6,-11.2,-10.9,-11.6,-11.2,-11.9,     # every 4 harmonics, 4 .. 400
              -11.6,-12.3,-12.0,-12.7,-12.6,-13.6,-13.3,-14.0,-13.6,-14.2,
              -13.9,-15.5,-14.5,-15.8,-14.8,-15.3,-15.1,-15.7,-15.4,-16.2,
              -16.8,-16.0,-15.8,-16.0,-16.9,-16.3,-15.9,-15.6,-15.4,-15.9,
              -16.5,-16.9,-17.3,-18.4,-17.5,-18.7,-17.9,-19.3,-18.2,-18.9,
              -18.5,-19.8,-18.8,-20.4,-19.2,-21.0,-19.5,-20.7,-19.8,-21.0,
              -20.1,-21.5,-20.4,-21.8,-20.7,-22.3,-21.0,-21.9,-21.2,-22.7,
              -21.5,-21.3,-21.0,-20.8,-20.7,-20.9,-21.2,-21.5,-22.2,-22.0,
              -22.6,-22.4,-23.0,-22.8,-23.4,-24.8,-23.3,-23.7,-24.3,-23.8,
              -24.9,-24.0,-24.6,-24.2,-25.1,-24.4,-24.9,-24.6,-25.2,-26.0]


# ---------------- helpers ----------------
def from_pairs(pairs):
    a = np.array(pairs, dtype=float)
    return a[:, 0], a[:, 1]


def assemble(head, segments):
    """head: list of (x, y) pairs; segments: list of (first_x, step, y_values)."""
    xs, ys = from_pairs(head)
    xs, ys = [xs], [ys]
    for start, step, vals in segments:
        v = np.array(vals, dtype=float)
        xs.append(start + step * np.arange(len(v)))
        ys.append(v)
    return np.concatenate(xs), np.concatenate(ys)


def regular(vals, step):
    v = np.array(vals, dtype=float)
    return step * np.arange(len(v)), v


panels = [
    dict(pi=from_pairs(p1_pi), ion=from_pairs(p1_ion), tot=from_pairs(p1_total),
         xlim=(0, 30), xstep=5, ylim=(-23, -5), yticks=(-22, -6), vlines=p1_harmonics),
    dict(pi=from_pairs(p2_pi), ion=from_pairs(p2_ion), tot=from_pairs(p2_total),
         xlim=(0, 35), xstep=5, ylim=(-23, -5), yticks=(-22, -6), vlines=[]),
    dict(pi=from_pairs(p3_pi), ion=from_pairs(p3_ion), tot=from_pairs(p3_total),
         xlim=(0, 35), xstep=5, ylim=(-20, -5), yticks=(-20, -6), vlines=[]),
    dict(pi=from_pairs(p4_pi), ion=from_pairs(p4_ion), tot=from_pairs(p4_total),
         xlim=(0, 60), xstep=10, ylim=(-20, -5), yticks=(-20, -6), vlines=[]),
    dict(pi=from_pairs(p5_pi), ion=from_pairs(p5_ion), tot=from_pairs(p5_total),
         xlim=(0, 50), xstep=10, ylim=(-25, -5), yticks=(-24, -6), vlines=[]),
    dict(pi=regular(p6_pi_y, 1.0), ion=regular(p6_ion_y, 1.0), tot=regular(p6_total_y, 0.5),
         xlim=(0, 100), xstep=20, ylim=(-25, -5), yticks=(-24, -6), vlines=p6_harmonics),
    dict(pi=assemble(p7_pi_head, [(10, 2, p7_pi_tail)]),
         ion=assemble(p7_ion_head, [(10, 2, p7_ion_tail)]),
         tot=assemble(p7_total_head, [(10, 1, p7_total_mid), (102, 2, p7_total_end)]),
         xlim=(0, 160), xstep=20, ylim=(-30, -3), yticks=(-30, -4), vlines=p7_harmonics),
    dict(pi=assemble(p8_pi_head, [(4, 4, p8_pi_tail)]),
         ion=assemble(p8_ion_head, [(4, 4, p8_ion_tail)]),
         tot=assemble(p8_total_head, [(4, 2, p8_total_mid), (292, 4, p8_total_end)]),
         xlim=(0, 400), xstep=50, ylim=(-30, -5), yticks=(-30, -6), vlines=[]),
]

# ---------------- figure ----------------
W, H = 1014, 1239
fig = plt.figure(figsize=(W / 100, H / 100), dpi=100)
col_left = [90, 570]
row_top = [49, 339, 629, 919]
ax_w, ax_h = 420, 250
frame_col = '0.45'
green = '#11e011'
red = '#ff2222'

for i, p in enumerate(panels):
    r, c = divmod(i, 2)
    ax = fig.add_axes([col_left[c] / W, 1 - (row_top[r] + ax_h) / H, ax_w / W, ax_h / H])
    for v in p['vlines']:
        ax.axvline(v, color='0.2', lw=1.0, zorder=1)
    l_pi, = ax.plot(*p['pi'], color=green, lw=0.9, ls=(0, (3, 1.5, 1, 1.5)), zorder=2, label=series_labels[0])
    l_ion, = ax.plot(*p['ion'], color=red, lw=0.9, ls=(0, (2, 2)), zorder=3, label=series_labels[1])
    l_tot, = ax.plot(*p['tot'], color='black', lw=(1.1 if i == 7 else 0.9), zorder=4, label=series_labels[2])
    ax.set_xlim(*p['xlim'])
    ax.set_ylim(*p['ylim'])
    ax.set_xticks(np.arange(p['xlim'][0], p['xlim'][1] + 0.01, p['xstep']))
    ax.set_yticks(np.arange(p['yticks'][0], p['yticks'][1] + 0.01, 2))
    ax.yaxis.set_minor_locator(MultipleLocator(1))
    ax.tick_params(which='both', direction='in', top=True, right=True, color=frame_col, width=1.0)
    ax.tick_params(which='major', length=6)
    ax.tick_params(which='minor', length=3)
    ax.tick_params(axis='y', pad=8)
    ax.tick_params(axis='x', pad=6)
    for s in ax.spines.values():
        s.set_color(frame_col)
        s.set_linewidth(1.5)
    ax.text(0.935, 0.915, intensity_labels[i], transform=ax.transAxes, ha='right', va='center', fontsize=14)
    if c == 0:
        ax.set_ylabel('log$_{10}$ (S(\u03c9))', labelpad=8)
    if r == 3:
        ax.set_xlabel('Harmonic Order', labelpad=10)
    if i == 0:
        ax.legend(handles=[l_pi, l_ion, l_tot], loc='upper right', bbox_to_anchor=(0.945, 0.84),
                  frameon=False, markerfirst=False, handlelength=1.4, handletextpad=1.8,
                  labelspacing=0.4, borderpad=0, borderaxespad=0, fontsize=14)

fig.text(300 / W, 1 - 20 / H, wavelength_titles[0], ha='center', va='center', fontsize=14)
fig.text(780 / W, 1 - 20 / H, wavelength_titles[1], ha='center', va='center', fontsize=14)

fig.savefig('out.png', dpi=100)
